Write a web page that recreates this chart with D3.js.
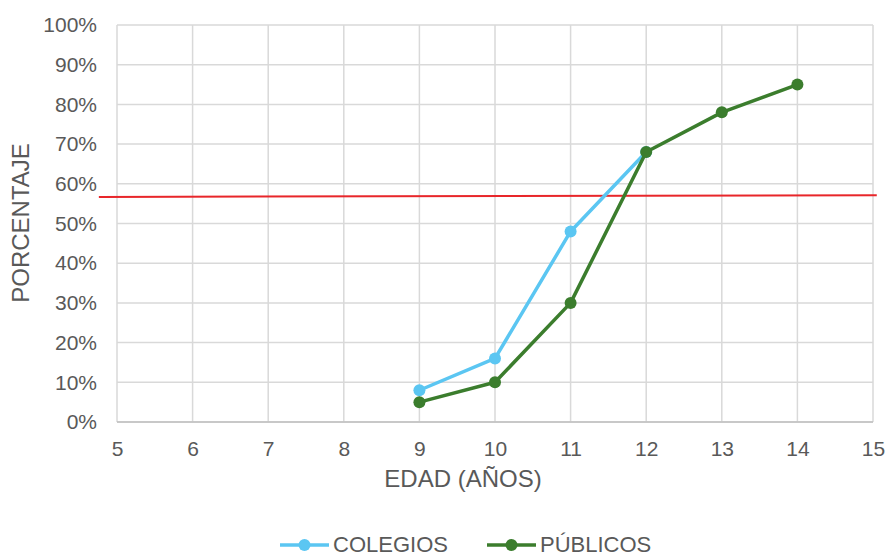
<!DOCTYPE html>
<html><head><meta charset="utf-8">
<script src="https://cdn.jsdelivr.net/npm/d3@7"></script>
<style>body{margin:0;background:#fff}svg{font-family:"Liberation Sans",Arial,sans-serif}</style>
</head><body>
<svg id="c" width="885" height="557"></svg>
<script>
const ages = [9, 10, 11, 12, 13, 14];
const colegios = [8, 16, 48, 68];
const publicos = [5, 10, 30, 68, 78, 85];
const xTicks = [5,6,7,8,9,10,11,12,13,14,15];
const yTicks = [0,10,20,30,40,50,60,70,80,90,100];
const thresholdX = [4.76, 15.05];
const thresholdY = [56.7, 57.1];
const seriesNames = ["COLEGIOS", "PÚBLICOS"];
const colors = ["#5bc6f2", "#3b7d2d"];

const svg = d3.select("#c");
const m = {l:117, r:873, t:25, b:422};
const x = d3.scaleLinear().domain([5,15]).range([m.l, m.r]);
const y = d3.scaleLinear().domain([0,100]).range([m.b, m.t]);
const txt = "#595959";
const ff = "Liberation Sans, Arial, sans-serif";

// grid
svg.append("g").selectAll("line").data(yTicks).join("line")
  .attr("x1", m.l).attr("x2", m.r).attr("y1", d=>y(d)).attr("y2", d=>y(d))
  .attr("stroke", "#d9d9d9").attr("stroke-width", 1.5);
svg.append("g").selectAll("line").data(xTicks).join("line")
  .attr("x1", d=>x(d)).attr("x2", d=>x(d)).attr("y1", m.t).attr("y2", m.b)
  .attr("stroke", "#d9d9d9").attr("stroke-width", 1.5);
svg.append("line").attr("x1", m.l).attr("x2", m.r).attr("y1", y(0)).attr("y2", y(0))
  .attr("stroke", "#bfbfbf").attr("stroke-width", 1.5);

// axes labels
const yAxis = d3.axisLeft(y).tickValues(yTicks).tickFormat(d=>d+"%").tickSize(0).tickPadding(20);
const ga = svg.append("g").attr("transform", `translate(${m.l},0)`).call(yAxis);
ga.select(".domain").remove();
ga.selectAll("text").attr("fill", txt).attr("font-size", 21).attr("font-family", ff);
const xAxis = d3.axisBottom(x).tickValues(xTicks).tickFormat(d3.format("d")).tickSize(0).tickPadding(19);
const gx = svg.append("g").attr("transform", `translate(0,${m.b})`).call(xAxis);
gx.select(".domain").remove();
gx.selectAll("text").attr("fill", txt).attr("font-size", 21).attr("font-family", ff);

svg.append("text").attr("x", 463).attr("y", 487).attr("text-anchor","middle")
  .attr("fill", txt).attr("font-size", 24).text("EDAD (AÑOS)");
svg.append("text").attr("transform", `translate(29,223) rotate(-90)`).attr("text-anchor","middle")
  .attr("fill", txt).attr("font-size", 24).text("PORCENTAJE");

// threshold line
svg.append("line").attr("x1", x(thresholdX[0])).attr("x2", x(thresholdX[1]))
  .attr("y1", y(thresholdY[0])).attr("y2", y(thresholdY[1]))
  .attr("stroke", "#e8262a").attr("stroke-width", 2);

// series
const series = [colegios, publicos];
const line = d3.line().x(d=>x(d[0])).y(d=>y(d[1]));
series.forEach((vals, i) => {
  const pts = vals.map((v, j) => [ages[j], v]);
  svg.append("path").datum(pts).attr("d", line).attr("fill","none")
    .attr("stroke", colors[i]).attr("stroke-width", 3.5).attr("stroke-linejoin","round");
  svg.append("g").selectAll("circle").data(pts).join("circle")
    .attr("cx", d=>x(d[0])).attr("cy", d=>y(d[1])).attr("r", 6).attr("fill", colors[i]);
});

// legend
const legX = [280, 487];
seriesNames.forEach((n, i) => {
  const g = svg.append("g").attr("transform", `translate(${legX[i]},545)`);
  g.append("line").attr("x1", 0).attr("x2", 49).attr("stroke", colors[i]).attr("stroke-width", 3.5);
  g.append("circle").attr("cx", 24.5).attr("r", 6).attr("fill", colors[i]);
  g.append("text").attr("x", 53).attr("y", 7).attr("fill", txt).attr("font-size", 22).text(n);
});
</script>
</body></html>
